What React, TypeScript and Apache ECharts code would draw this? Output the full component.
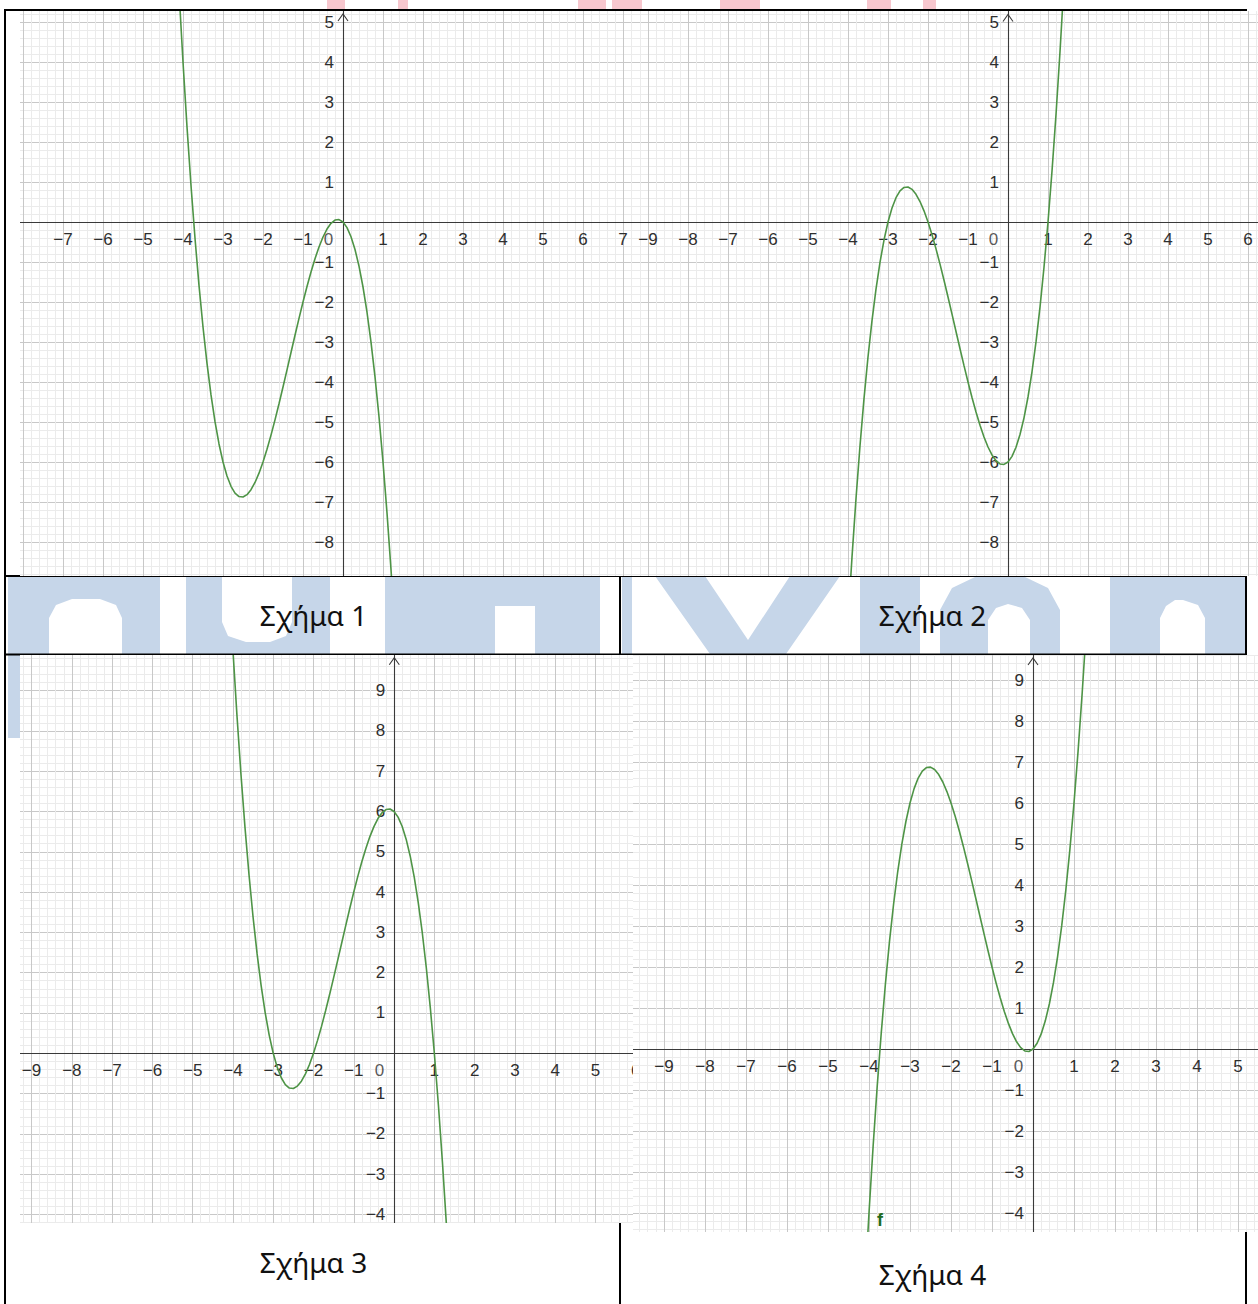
import React, { useEffect, useRef } from 'react';
import * as echarts from 'echarts';

// ---------- data ----------
const CURVE_X = [
  -4.4, -4.3, -4.2, -4.1, -4.0, -3.9, -3.8, -3.7, -3.6, -3.5, -3.4, -3.3, -3.2, -3.1, -3.0, -2.9, -2.8, -2.7, -2.6, -2.5,
  -2.4, -2.3, -2.2, -2.1, -2.0, -1.9, -1.8, -1.7, -1.6, -1.5, -1.4, -1.3, -1.2, -1.1, -1.0, -0.9, -0.8, -0.7, -0.6, -0.5,
  -0.4, -0.3, -0.2, -0.1, 0, 0.1, 0.2, 0.3, 0.4, 0.5, 0.6, 0.7, 0.8, 0.9, 1.0, 1.1, 1.2, 1.3, 1.4, 1.5, 1.6,
];
const FIG1_Y = [
  12.144, 9.847, 7.728, 5.781, 4, 2.379, 0.912, -0.407, -1.584, -2.625, -3.536, -4.323, -4.992, -5.549, -6, -6.351, -6.608, -6.777, -6.864, -6.875,
  -6.816, -6.693, -6.512, -6.279, -6, -5.681, -5.328, -4.947, -4.544, -4.125, -3.696, -3.263, -2.832, -2.409, -2, -1.611, -1.248, -0.917, -0.624, -0.375,
  -0.176, -0.033, 0.048, 0.061, 0, -0.141, -0.368, -0.687, -1.104, -1.625, -2.256, -3.003, -3.872, -4.869, -6, -7.271, -8.688, -10.257, -11.984, -13.875, -15.936,
];
const FIG2_Y = [
  -18.144, -15.847, -13.728, -11.781, -10, -8.379, -6.912, -5.593, -4.416, -3.375, -2.464, -1.677, -1.008, -0.451, 0, 0.351, 0.608, 0.777, 0.864, 0.875,
  0.816, 0.693, 0.512, 0.279, 0, -0.319, -0.672, -1.053, -1.456, -1.875, -2.304, -2.737, -3.168, -3.591, -4, -4.389, -4.752, -5.083, -5.376, -5.625,
  -5.824, -5.967, -6.048, -6.061, -6, -5.859, -5.632, -5.313, -4.896, -4.375, -3.744, -2.997, -2.128, -1.131, 0, 1.271, 2.688, 4.257, 5.984, 7.875, 9.936,
];
const FIG3_Y = [
  18.144, 15.847, 13.728, 11.781, 10, 8.379, 6.912, 5.593, 4.416, 3.375, 2.464, 1.677, 1.008, 0.451, 0, -0.351, -0.608, -0.777, -0.864, -0.875,
  -0.816, -0.693, -0.512, -0.279, 0, 0.319, 0.672, 1.053, 1.456, 1.875, 2.304, 2.737, 3.168, 3.591, 4, 4.389, 4.752, 5.083, 5.376, 5.625,
  5.824, 5.967, 6.048, 6.061, 6, 5.859, 5.632, 5.313, 4.896, 4.375, 3.744, 2.997, 2.128, 1.131, 0, -1.271, -2.688, -4.257, -5.984, -7.875, -9.936,
];
const FIG4_Y = [
  -12.144, -9.847, -7.728, -5.781, -4, -2.379, -0.912, 0.407, 1.584, 2.625, 3.536, 4.323, 4.992, 5.549, 6, 6.351, 6.608, 6.777, 6.864, 6.875,
  6.816, 6.693, 6.512, 6.279, 6, 5.681, 5.328, 4.947, 4.544, 4.125, 3.696, 3.263, 2.832, 2.409, 2, 1.611, 1.248, 0.917, 0.624, 0.375,
  0.176, 0.033, -0.048, -0.061, 0, 0.141, 0.368, 0.687, 1.104, 1.625, 2.256, 3.003, 3.872, 4.869, 6, 7.271, 8.688, 10.257, 11.984, 13.875, 15.936,
];
// tick labels shown on each figure
const FIG1_XTICKS = [-7, -6, -5, -4, -3, -2, -1, 1, 2, 3, 4, 5, 6, 7];
const FIG1_YTICKS = [-8, -7, -6, -5, -4, -3, -2, -1, 1, 2, 3, 4, 5];
const FIG2_XTICKS = [-9, -8, -7, -6, -5, -4, -3, -2, -1, 1, 2, 3, 4, 5, 6];
const FIG2_YTICKS = [-8, -7, -6, -5, -4, -3, -2, -1, 1, 2, 3, 4, 5];
const FIG3_XTICKS = [-9, -8, -7, -6, -5, -4, -3, -2, -1, 1, 2, 3, 4, 5, 6];
const FIG3_YTICKS = [-4, -3, -2, -1, 1, 2, 3, 4, 5, 6, 7, 8, 9];
const FIG4_XTICKS = [-9, -8, -7, -6, -5, -4, -3, -2, -1, 1, 2, 3, 4, 5];
const FIG4_YTICKS = [-4, -3, -2, -1, 1, 2, 3, 4, 5, 6, 7, 8, 9];
const CAPTIONS = ['Σχήμα 1', 'Σχήμα 2', 'Σχήμα 3', 'Σχήμα 4'];
const ORIGIN_LABEL = '0';
const CURVE_NAME = 'f';

// ---------- layout ----------
const PAGE_W = 1258;
const PAGE_H = 1304;
const CURVE_COLOR = '#4e9446';
const BLUE = '#c6d6e9';
const PINK = '#f7c7ce';

type Panel = {
  box: [number, number, number, number];
  origin: [number, number];
  unit: [number, number];
  ys: number[];
  xticks: number[];
  yticks: number[];
  name?: [number, number];
};

const PANELS: Panel[] = [
  { box: [20, 11, 633, 576], origin: [343, 222], unit: [40, 40], ys: FIG1_Y, xticks: FIG1_XTICKS, yticks: FIG1_YTICKS },
  { box: [633, 11, 1258, 576], origin: [1007.5, 221.5], unit: [40, 40], ys: FIG2_Y, xticks: FIG2_XTICKS, yticks: FIG2_YTICKS },
  { box: [20, 655, 633, 1223], origin: [394.5, 1053.5], unit: [40.3, 40.3], ys: FIG3_Y, xticks: FIG3_XTICKS, yticks: FIG3_YTICKS },
  { box: [633, 655, 1258, 1232], origin: [1033, 1049], unit: [41, 41], ys: FIG4_Y, xticks: FIG4_XTICKS, yticks: FIG4_YTICKS, name: [880, 1220] },
];

const makeFmt = (ticks: number[]) => (v: number) => {
  const r = Math.round(v);
  if (Math.abs(v - r) > 1e-6 || ticks.indexOf(r) < 0) return '';
  return r < 0 ? '\u2212' + -r : String(r);
};

const AXIS_FONT = { fontFamily: 'Liberation Sans, Arial, sans-serif', fontSize: 17, color: '#2e2e2e' };

function PanelChart({ p }: { p: Panel }) {
  const ref = useRef<HTMLDivElement>(null);
  const [l, t, r, b] = p.box;
  const [ox, oy] = p.origin;
  const [ux, uy] = p.unit;
  const xMin = Math.floor((l - ox) / ux) - 1;
  const xMax = Math.ceil((r - ox) / ux) + 1;
  const yMin = Math.floor((oy - b) / uy) - 1;
  const yMax = Math.ceil((oy - t) / uy) + 1;
  const innerLeft = ox + xMin * ux;
  const innerTop = oy - yMax * uy;
  const w = (xMax - xMin) * ux;
  const h = (yMax - yMin) * uy;

  useEffect(() => {
    const chart = echarts.init(ref.current!, null, { renderer: 'svg' });
    const axX = ox - innerLeft;
    const tipY = t + 3 - innerTop;
    const graphic: any[] = [
      {
        type: 'polyline',
        shape: { points: [[axX - 5, tipY + 7], [axX, tipY], [axX + 5, tipY + 7]] },
        style: { stroke: '#3a3a3a', lineWidth: 1.1, fill: 'none' },
        z: 10,
      },
    ];
    if (p.name) {
      graphic.push({
        type: 'text',
        x: p.name[0] - innerLeft,
        y: p.name[1] - innerTop,
        style: { text: CURVE_NAME, fill: '#1f6b1f', font: 'bold 18px Liberation Sans, Arial, sans-serif', align: 'center', verticalAlign: 'middle' },
        z: 10,
      });
    }
    const axisCommon = {
      type: 'value' as const,
      minInterval: 1,
      maxInterval: 1,
      axisTick: { show: false },
      minorTick: { show: false, splitNumber: 5 },
      splitLine: { show: true, lineStyle: { color: '#c8c8c8', width: 1 } },
      minorSplitLine: { show: true, lineStyle: { color: '#ebebeb', width: 1 } },
    };
    const axisLine = { show: true, onZero: false, lineStyle: { color: '#3a3a3a', width: 1.1 } };
    chart.setOption({
      animation: false,
      backgroundColor: '#ffffff',
      grid: { left: 0, right: 0, top: 0, bottom: 0, containLabel: false, outerBoundsMode: 'none' },
      xAxis: {
        ...axisCommon,
        position: 'bottom',
        offset: yMin * uy,
        min: xMin,
        max: xMax,
        axisLine,
        axisLabel: { ...AXIS_FONT, margin: 9, formatter: makeFmt(p.xticks), showMinLabel: true, showMaxLabel: true, hideOverlap: false },
      },
      yAxis: {
        ...axisCommon,
        position: 'left',
        offset: xMin * ux,
        min: yMin,
        max: yMax,
        axisLine,
        axisLabel: { ...AXIS_FONT, margin: 9, padding: [2, 0, 0, 0], formatter: makeFmt(p.yticks), showMinLabel: true, showMaxLabel: true, hideOverlap: false },
      },
      graphic,
      series: [
        {
          type: 'line',
          data: CURVE_X.map((x, i) => [x, p.ys[i]]),
          smooth: false,
          showSymbol: false,
          clip: true,
          lineStyle: { color: CURVE_COLOR, width: 1.6 },
          z: 5,
        },
        {
          type: 'scatter',
          data: [[0, 0]],
          symbolSize: 1,
          itemStyle: { color: 'rgba(0,0,0,0)' },
          label: {
            show: true,
            formatter: ORIGIN_LABEL,
            position: [-14, 18],
            align: 'center',
            verticalAlign: 'middle',
            ...AXIS_FONT,
          },
          z: 6,
        },
      ],
    });
    return () => chart.dispose();
  }, []);

  return (
    <div style={{ position: 'absolute', left: l, top: t, width: r - l, height: b - t, overflow: 'hidden', background: '#fff' }}>
      <div ref={ref} style={{ position: 'absolute', left: innerLeft - l, top: innerTop - t, width: w, height: h }} />
    </div>
  );
}

// watermark / frame shapes (layout)
const BLUE_POLYS: number[][][] = [
  // left strip beside figure 3
  [[8, 576], [20, 576], [20, 738], [8, 738]],
  // "n"
  [[18, 576], [160, 576], [160, 654], [122, 654], [122, 618], [116, 605], [100, 599], [72, 599], [56, 605], [49, 618], [49, 654], [18, 654]],
  // "u"
  [[186, 576], [222, 576], [222, 622], [228, 636], [246, 642], [270, 642], [286, 636], [292, 622], [292, 576], [330, 576], [330, 654], [186, 654]],
  // block with square gap
  [[385, 576], [600, 576], [600, 654], [535, 654], [535, 606], [495, 606], [495, 654], [385, 654]],
  [[622, 576], [632, 576], [632, 654], [622, 654]],
  // "V"
  [[655, 576], [705, 576], [748, 640], [790, 576], [840, 576], [786, 654], [710, 654]],
  // bar
  [[860, 576], [920, 576], [920, 654], [860, 654]],
  // round letter
  [[940, 654], [940, 610], [952, 588], [975, 577], [1025, 577], [1048, 588], [1060, 610], [1060, 654], [1030, 654], [1030, 620], [1022, 608], [1008, 604], [996, 608], [988, 620], [988, 654]],
  // "n"
  [[1110, 576], [1246, 576], [1246, 654], [1205, 654], [1205, 618], [1198, 605], [1183, 600], [1175, 600], [1166, 606], [1160, 618], [1160, 654], [1110, 654]],
];
const PINK_RECTS: [number, number, number, number][] = [
  [327, 0, 18, 10],
  [398, 0, 10, 10],
  [578, 0, 28, 10],
  [612, 0, 30, 10],
  [720, 0, 40, 10],
  [867, 0, 24, 10],
  [923, 0, 13, 10],
];
const BORDER_LINES: [number, number, number, number][] = [
  [5, 10, 1247, 10],
  [5, 9, 5, 1304],
  [5, 576, 1247, 576],
  [5, 654.5, 1247, 654.5],
  [620, 576, 620, 654.5],
  [1246, 576, 1246, 654.5],
  [620, 1223, 620, 1304],
  [1246, 1232, 1246, 1304],
];
const CAPTION_POS: [number, number][] = [
  [313.5, 615],
  [932.5, 615],
  [313.5, 1262],
  [932.5, 1274],
];

function Frame() {
  const ref = useRef<HTMLDivElement>(null);
  useEffect(() => {
    const chart = echarts.init(ref.current!, null, { renderer: 'svg' });
    const g: any[] = [];
    BLUE_POLYS.forEach((pts) => g.push({ type: 'polygon', shape: { points: pts }, style: { fill: BLUE }, z: 1 }));
    PINK_RECTS.forEach(([x, y, w, h]) => g.push({ type: 'rect', shape: { x, y, width: w, height: h }, style: { fill: PINK }, z: 1 }));
    BORDER_LINES.forEach(([x1, y1, x2, y2]) =>
      g.push({ type: 'line', shape: { x1, y1, x2, y2 }, style: { stroke: '#000', lineWidth: 2 }, z: 5 })
    );
    CAPTIONS.forEach((c, i) =>
      g.push({
        type: 'text',
        x: CAPTION_POS[i][0],
        y: CAPTION_POS[i][1],
        style: { text: c, fill: '#111', font: '28px "Noto Sans", "Open Sans", sans-serif', align: 'center', verticalAlign: 'middle' },
        z: 6,
      })
    );
    chart.setOption({ animation: false, graphic: g });
    return () => chart.dispose();
  }, []);
  return <div ref={ref} style={{ position: 'absolute', left: 0, top: 0, width: PAGE_W, height: PAGE_H }} />;
}

export default function App() {
  return (
    <div style={{ position: 'absolute', left: 0, top: 0, width: PAGE_W, height: PAGE_H, background: '#fff', overflow: 'hidden' }}>
      <Frame />
      {PANELS.map((p, i) => (
        <PanelChart key={i} p={p} />
      ))}
    </div>
  );
}
